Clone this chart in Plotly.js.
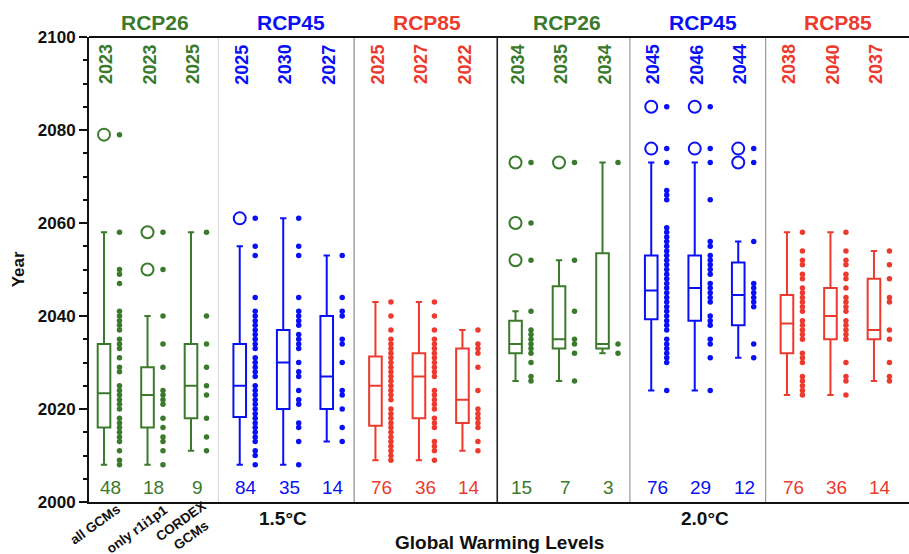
<!DOCTYPE html>
<html><head><meta charset="utf-8">
<script src="https://cdn.plot.ly/plotly-3.0.1.min.js"></script>
<style>html,body{margin:0;padding:0;background:#fff}</style>
</head><body><div id="chart" style="width:909px;height:554px"></div>
<script>
// ---------------- data ----------------
const warmingLevels = ['1.5°C', '2.0°C'];
const scenarios = ['RCP26', 'RCP45', 'RCP85'];
const ensembles = ['all GCMs', 'only r1i1p1', 'CORDEX<br>GCMs'];

// order of the 18 boxes: warming level -> scenario -> ensemble
const medianLabels = [2023, 2023, 2025, 2025, 2030, 2027, 2025, 2027, 2022,
                      2034, 2035, 2034, 2045, 2046, 2044, 2038, 2040, 2037];
const modelCounts  = [48, 18, 9, 84, 35, 14, 76, 36, 14,
                      15, 7, 3, 76, 29, 12, 76, 36, 14];
const whiskerLow   = [2008, 2008, 2011, 2008, 2008, 2013, 2009, 2009, 2011,
                      2026, 2026, 2032, 2024, 2024, 2031, 2023, 2023, 2026];
const quart1       = [2016, 2016, 2018, 2018.3, 2020, 2020, 2016.4, 2018, 2017,
                      2032, 2033, 2033, 2039.3, 2039, 2038, 2032, 2035, 2035];
const medians      = [2023.4, 2023, 2025, 2025, 2030, 2027, 2025, 2027, 2022,
                      2034, 2035, 2034, 2045.5, 2046, 2044.5, 2038.4, 2040, 2037];
const quart3       = [2034, 2029, 2034, 2034, 2037, 2040, 2031.3, 2032, 2033,
                      2039, 2046.4, 2053.5, 2053, 2053, 2051.5, 2044.5, 2046, 2048];
const whiskerHigh  = [2058, 2040, 2058, 2055, 2061, 2053, 2043, 2043, 2037,
                      2041, 2052, 2073, 2073, 2073, 2056, 2058, 2058, 2054];
const outlierYears = [[2079], [2050, 2058], [], [2061], [], [], [], [], [],
                      [2052, 2060, 2073], [2073], [], [2076, 2085], [2076, 2085], [2073, 2076], [], [], []];

// individual model years (dots), per level and scenario: [all GCMs, only r1i1p1, CORDEX GCMs]
const years15_rcp26 = [
  [2079, 2058, 2050, 2049, 2047, 2041, 2040, 2039, 2038, 2037, 2035, 2034, 2033, 2031, 2029, 2028, 2025, 2024, 2023, 2022, 2021, 2020, 2018, 2017, 2016, 2015, 2014, 2013, 2011, 2009, 2008],
  [2058, 2050, 2040, 2034, 2029, 2024, 2023, 2022, 2021, 2018, 2016, 2014, 2013, 2011, 2008],
  [2058, 2040, 2034, 2029, 2025, 2023, 2018, 2014, 2011]];
const years15_rcp45 = [
  [2061, 2055, 2053, 2044, 2041, 2040, 2039, 2038, 2037, 2036, 2035, 2034, 2033, 2031, 2030, 2029, 2028, 2027, 2025, 2024, 2023, 2022, 2021, 2020, 2019, 2018, 2017, 2016, 2015, 2014, 2013, 2011, 2010, 2008],
  [2061, 2055, 2053, 2044, 2041, 2040, 2039, 2038, 2036, 2035, 2034, 2033, 2030, 2028, 2027, 2024, 2022, 2021, 2017, 2016, 2013, 2008],
  [2053, 2044, 2041, 2040, 2035, 2034, 2030, 2024, 2023, 2020, 2016, 2013]];
const years15_rcp85 = [
  [2043, 2040, 2037, 2035, 2034, 2033, 2032, 2031, 2030, 2029, 2028, 2027, 2026, 2025, 2024, 2023, 2022, 2020, 2019, 2018, 2017, 2016, 2015, 2014, 2013, 2012, 2011, 2010, 2009],
  [2043, 2040, 2037, 2035, 2034, 2033, 2032, 2031, 2030, 2029, 2028, 2027, 2024, 2023, 2022, 2021, 2020, 2018, 2017, 2016, 2013, 2012, 2011, 2009],
  [2037, 2034, 2033, 2032, 2029, 2024, 2020, 2019, 2018, 2017, 2016, 2013, 2011]];
const years20_rcp26 = [
  [2073, 2060, 2052, 2041, 2037, 2036, 2035, 2034, 2033, 2032, 2030, 2027, 2026],
  [2073, 2052, 2041, 2035, 2034, 2032, 2026],
  [2073, 2034, 2032]];
const years20_rcp45 = [
  [2085, 2076, 2073, 2067, 2066, 2065, 2059, 2058, 2057, 2056, 2055, 2054, 2053, 2052, 2051, 2050, 2049, 2048, 2047, 2046, 2045, 2044, 2043, 2042, 2041, 2040, 2039, 2038, 2037, 2035, 2034, 2033, 2032, 2031, 2030, 2024],
  [2085, 2076, 2073, 2065, 2056, 2055, 2053, 2052, 2051, 2050, 2049, 2047, 2046, 2045, 2044, 2043, 2040, 2039, 2038, 2035, 2034, 2031, 2024],
  [2076, 2073, 2056, 2047, 2046, 2045, 2044, 2043, 2042, 2034, 2031]];
const years20_rcp85 = [
  [2058, 2054, 2052, 2051, 2049, 2048, 2046, 2045, 2044, 2043, 2042, 2041, 2039, 2038, 2037, 2036, 2035, 2032, 2031, 2030, 2027, 2026, 2025, 2024, 2023],
  [2058, 2054, 2052, 2051, 2049, 2048, 2046, 2044, 2043, 2042, 2041, 2039, 2038, 2037, 2036, 2035, 2030, 2027, 2026, 2023],
  [2054, 2051, 2048, 2044, 2043, 2037, 2035, 2030, 2027, 2026]];

// ---------------- styling / layout ----------------
const groupYears = [years15_rcp26, years15_rcp45, years15_rcp85, years20_rcp26, years20_rcp45, years20_rcp85];
const colors = {RCP26: '#3b7a2c', RCP45: '#0a10f5', RCP85: '#ec3a2e'};
const FONT = 'Liberation Sans, Arial, Helvetica, sans-serif';
const PITCH = 3.12, DOT_OFF = 0.356;
function boxX(g, m) { return 0.345 + g * PITCH + m + (g >= 3 ? 0.1 : 0); }

const traces = [];
const annotations = [];
scenarios.forEach((sc, s) => {
  const col = colors[sc];
  const bx = [], b1 = [], bm = [], b3 = [], bl = [], bh = [];
  const dx = [], dy = [], ox = [], oy = [];
  [0, 1].forEach(lv => {
    const g = lv * 3 + s;
    for (let m = 0; m < 3; m++) {
      const i = g * 3 + m;
      const x = boxX(g, m);
      bx.push(x); b1.push(quart1[i]); bm.push(medians[i]); b3.push(quart3[i]);
      bl.push(whiskerLow[i]); bh.push(whiskerHigh[i]);
      groupYears[g][m].forEach(v => { dx.push(x + DOT_OFF); dy.push(v); });
      outlierYears[i].forEach(v => { ox.push(x); oy.push(v); });
      annotations.push({x: x + 0.06, y: 2094.1, xref: 'x', yref: 'y', text: String(medianLabels[i]),
        textangle: -90, showarrow: false, xanchor: 'center', yanchor: 'middle',
        font: {family: FONT, size: 18, color: col, weight: 'bold'}});
      annotations.push({x: x + 0.14, y: 2003.2, xref: 'x', yref: 'y', text: String(modelCounts[i]),
        showarrow: false, xanchor: 'center', yanchor: 'middle',
        font: {family: FONT, size: 19, color: col}});
    }
    annotations.push({x: boxX(g, 1) + 0.18, y: 1.031, xref: 'x', yref: 'paper', text: sc,
      showarrow: false, xanchor: 'center', yanchor: 'middle',
      font: {family: FONT, size: 21, color: col, weight: 'bold'}});
  });
  traces.push({type: 'box', x: bx, q1: b1, median: bm, q3: b3, lowerfence: bl, upperfence: bh,
    width: 0.29, whiskerwidth: 0.5, boxpoints: false, fillcolor: 'rgba(255,255,255,0)',
    line: {color: col, width: 2}, hoverinfo: 'skip', showlegend: false});
  traces.push({type: 'scatter', mode: 'markers', x: dx, y: dy, cliponaxis: false,
    marker: {color: col, size: 5.5}, hoverinfo: 'skip', showlegend: false});
  traces.push({type: 'scatter', mode: 'markers', x: ox, y: oy, cliponaxis: false,
    marker: {color: col, size: 12, symbol: 'circle-open', line: {color: col, width: 2}},
    hoverinfo: 'skip', showlegend: false});
});

// warming level labels and ensemble labels
const levelShift = [0.0, 0.24];
warmingLevels.forEach((wl, lv) => {
  annotations.push({x: boxX(lv * 3 + 1, 1) + levelShift[lv], y: -0.036, xref: 'x', yref: 'paper', text: wl,
    showarrow: false, xanchor: 'center', yanchor: 'middle',
    font: {family: FONT, size: 19, color: '#111', weight: 'bold'}});
});
const ensShift = [[-9, -22], [-11, -27], [-5, -26]];
ensembles.forEach((e, m) => {
  annotations.push({x: boxX(0, m), y: 0, xref: 'x', yref: 'paper', text: e,
    xshift: ensShift[m][0], yshift: ensShift[m][1], textangle: -36, showarrow: false,
    xanchor: 'center', yanchor: 'middle', align: 'center',
    font: {family: FONT, size: 13.5, color: '#111', weight: 'bold'}});
});
annotations.push({x: 0.5, y: -0.088, xref: 'paper', yref: 'paper', text: 'Global Warming Levels',
  showarrow: false, xanchor: 'center', yanchor: 'middle',
  font: {family: FONT, size: 19, color: '#111', weight: 'bold'}});
annotations.push({x: -0.0856, y: 0.5, xref: 'paper', yref: 'paper', text: 'Year', textangle: -90,
  showarrow: false, xanchor: 'center', yanchor: 'middle',
  font: {family: FONT, size: 17, color: '#111', weight: 'bold'}});

// group separators
const sepStyle = [{c: '#dcdcdc', w: 1.2}, {c: '#8a8a8a', w: 1.2}, {c: '#222', w: 1.6}, {c: '#9a9a9a', w: 1.2}, {c: '#9a9a9a', w: 1.2}];
const shapes = [];
for (let g = 1; g < 6; g++) {
  const xs = boxX(g, 0) - (g === 3 ? 0.42 : 0.49);
  shapes.push({type: 'line', xref: 'x', yref: 'paper', x0: xs, x1: xs, y0: 0, y1: 1,
    line: {color: sepStyle[g - 1].c, width: sepStyle[g - 1].w}});
}
shapes.push({type: 'line', xref: 'paper', yref: 'paper', x0: 0, x1: 1, y0: 1, y1: 1,
  line: {color: '#111', width: 2}});

const layout = {
  width: 909, height: 554,
  margin: {l: 89, r: 0, t: 37, b: 52},
  paper_bgcolor: '#fff', plot_bgcolor: '#fff',
  showlegend: false,
  font: {family: FONT, color: '#111'},
  xaxis: {range: [0, 820 / 43.5], showline: true, linecolor: '#111', linewidth: 2,
    showticklabels: false, ticks: '', showgrid: false, zeroline: false, fixedrange: true},
  yaxis: {range: [2000, 2100], tickmode: 'array', tickvals: [2000, 2020, 2040, 2060, 2080, 2100],
    ticks: 'outside', ticklen: 8, tickwidth: 2, tickcolor: '#111',
    showline: true, linecolor: '#111', linewidth: 2, showgrid: false, zeroline: false,
    tickfont: {family: FONT, size: 17, color: '#111', weight: 'bold'},
    minor: {tickvals: [2005, 2010, 2015, 2025, 2030, 2035, 2045, 2050, 2055, 2065, 2070, 2075, 2085, 2090, 2095],
      ticks: 'outside', ticklen: 4, tickwidth: 2, tickcolor: '#111', showgrid: false},
    fixedrange: true},
  annotations: annotations,
  shapes: shapes
};

Plotly.newPlot('chart', traces, layout, {staticPlot: true, displayModeBar: false});
</script>
</body></html>
